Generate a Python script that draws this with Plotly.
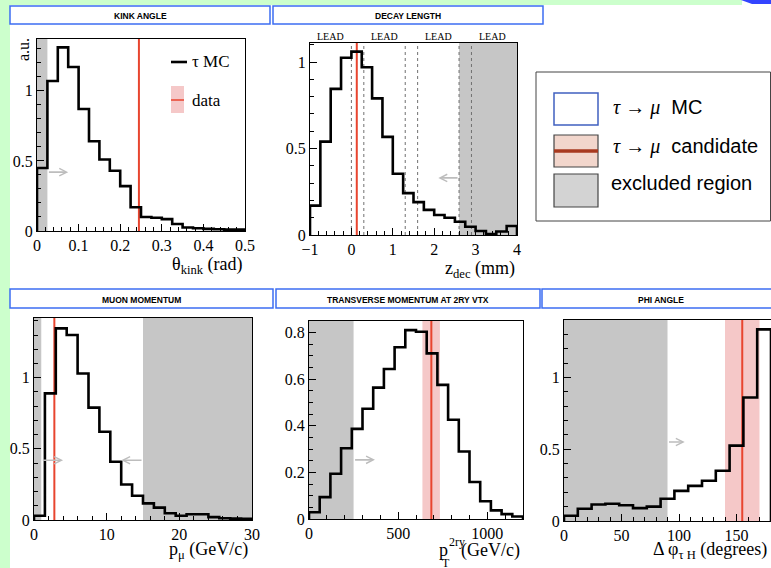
import plotly.graph_objects as go

W, H = 771, 568

# ---------------- data ----------------
kink_lo, kink_w = 0.0, 0.025
kink_vals = [0.45, 1.07, 1.31, 1.17, 0.87, 0.64, 0.51, 0.43, 0.32, 0.17,
             0.10, 0.095, 0.085, 0.05, 0.025, 0.02, 0.015, 0.012, 0.01, 0.01]
kink_cut = [0.0, 0.025]
kink_data = 0.245
kink_arrow = [0.025, 0.075, 0.42]

decay_lo, decay_w = -1.0, 0.25
decay_vals = [0.17, 0.54, 0.845, 1.025, 1.06, 0.97, 0.79, 0.567, 0.354, 0.242,
              0.19, 0.145, 0.116, 0.10, 0.077, 0.048, 0.023, 0.005, 0.02, 0.052]
decay_cut = [2.6, 4.0]
decay_data = 0.13
lead_gaps = [0.0, 0.3, 1.3, 1.6, 2.6, 2.9]
lead_label_x = [-0.5, 0.8, 2.1, 3.4]
decay_arrow = [2.6, 2.1, 0.33]

muon_lo, muon_w = 0.0, 1.5
muon_vals = [0.03, 0.89, 1.347, 1.30, 1.03, 0.79, 0.62, 0.41, 0.25, 0.17,
             0.117, 0.087, 0.047, 0.03, 0.04, 0.04, 0.02, 0.012, 0.01, 0.008]
muon_cuts = [[0.0, 1.0], [15.0, 30.0]]
muon_data = 2.8
muon_arrows = [[1.0, 4.0, 0.42], [15.0, 12.0, 0.42]]

pt_lo, pt_w = 0.0, 60.0
pt_vals = [0.029, 0.094, 0.194, 0.304, 0.387, 0.473, 0.564, 0.644, 0.737, 0.811,
           0.804, 0.711, 0.576, 0.426, 0.29, 0.159, 0.076, 0.037, 0.021, 0.011]
pt_cut = [0.0, 250.0]
pt_data = 686.0
pt_band = [636.0, 734.0]
pt_arrow = [250.0, 370.0, 0.254]

phi_lo, phi_w = 0.0, 12.0
phi_vals = [0.037, 0.085, 0.115, 0.12, 0.11, 0.09, 0.10, 0.155, 0.21, 0.245,
            0.28, 0.35, 0.525, 0.86, 1.335]
phi_cut = [0.0, 90.0]
phi_data = 155.0
phi_band = [140.0, 170.0]
phi_arrow = [90.0, 105.0, 0.55]

headers_top = ["KINK ANGLE", "DECAY LENGTH"]
headers_bottom = ["MUON MOMENTUM", "TRANSVERSE MOMENTUM AT 2RY VTX", "PHI ANGLE"]

# ---------------- styling ----------------
SERIF = "Liberation Serif"
SANS = "Liberation Sans"
RED = "#e8452f"
PINK = "#f5c8c8"
GRAYFILL = "#c6c6c6"
ARROW = "#bdbdbd"
BLUE = "#3d6df2"
GREEN = "#ccffcc"


def px(x):
    return x / W


def py(y):
    return 1 - y / H


# panel frames in pixels: (left, right, top, bottom)
panels = {
    1: (37, 245, 39, 231),
    2: (310, 517, 43, 235),
    3: (34, 252, 318, 520),
    4: (309, 523, 321, 519),
    5: (564, 771, 320, 521),
}
axcfg = {
    1: dict(xr=[0, 0.5], xd=0.1, xm=0.02, yr=[0, 1.37], yd=0.5, ym=0.1),
    2: dict(xr=[-1, 4], xd=1, xm=0.2, yr=[0, 1.11], yd=0.5, ym=0.1),
    3: dict(xr=[0, 30], xd=10, xm=2, yr=[0, 1.42], yd=0.5, ym=0.1),
    4: dict(xr=[0, 1200], xd=500, xm=100, yr=[0, 0.85], yd=0.2, ym=0.05),
    5: dict(xr=[0, 180], xd=50, xm=10, yr=[0, 1.4], yd=0.5, ym=0.1),
}


def step_xy(lo, width, vals):
    n = len(vals)
    edges = [lo + width * i for i in range(n + 1)]
    xs = [edges[0]] + edges + [edges[-1]]
    ys = [0] + list(vals) + [vals[-1], 0]
    return xs, ys


fig = go.Figure()

hists = {1: (kink_lo, kink_w, kink_vals), 2: (decay_lo, decay_w, decay_vals),
         3: (muon_lo, muon_w, muon_vals), 4: (pt_lo, pt_w, pt_vals),
         5: (phi_lo, phi_w, phi_vals)}

for i, (lo, w, vals) in hists.items():
    xs, ys = step_xy(lo, w, vals)
    s = "" if i == 1 else str(i)
    fig.add_trace(go.Scatter(x=xs, y=ys, mode="lines", line_shape="hv",
                             line=dict(color="black", width=2.6),
                             xaxis="x" + s, yaxis="y" + s, showlegend=False,
                             hoverinfo="skip"))

layout = dict(width=W, height=H,
              margin=dict(l=0, r=0, t=0, b=0, pad=0, autoexpand=False),
              paper_bgcolor="white", plot_bgcolor="white", showlegend=False)

for i, (l, r, t, b) in panels.items():
    c = axcfg[i]
    s = "" if i == 1 else str(i)
    common = dict(showline=True, linecolor="black", linewidth=1, mirror=True,
                  ticks="inside", ticklen=7, tickwidth=1, tickcolor="black",
                  showgrid=False, zeroline=False, automargin=False,
                  tickfont=dict(family=SERIF, size=16, color="black"))
    layout["xaxis" + s] = dict(domain=[px(l), px(r)], anchor="y" + s,
                               range=c["xr"], dtick=c["xd"], tick0=0,
                               minor=dict(dtick=c["xm"], ticks="inside", ticklen=4,
                                          tickcolor="black", showgrid=False),
                               **common)
    layout["yaxis" + s] = dict(domain=[py(b), py(t)], anchor="x" + s,
                               range=c["yr"], dtick=c["yd"], tick0=0,
                               minor=dict(dtick=c["ym"], ticks="inside", ticklen=4,
                                          tickcolor="black", showgrid=False),
                               **common)

fig.update_layout(**layout)

shapes = []
ann = []


def vband(s, x0, x1, color):
    shapes.append(dict(type="rect", xref="x" + s, yref="y" + s + " domain",
                       x0=x0, x1=x1, y0=0, y1=1, fillcolor=color,
                       line=dict(width=0), layer="below"))


def vline(s, x, color, width=2, dash="solid"):
    shapes.append(dict(type="line", xref="x" + s, yref="y" + s + " domain",
                       x0=x, x1=x, y0=0, y1=1,
                       line=dict(color=color, width=width, dash=dash), layer="below"))


def arrow(s, tail, tip, y):
    ann.append(dict(xref="x" + s, yref="y" + s, axref="x" + s, ayref="y" + s,
                    x=tip, y=y, ax=tail, ay=y, text="", showarrow=True,
                    arrowhead=5, arrowsize=0.9, arrowwidth=1.6, arrowcolor=ARROW))


# panel 1: kink angle
vband("", kink_cut[0], kink_cut[1], GRAYFILL)
vline("", kink_data, RED)
arrow("", kink_arrow[0], kink_arrow[1], kink_arrow[2])

# panel 2: decay length
vband("2", decay_cut[0], decay_cut[1], GRAYFILL)
for g in lead_gaps:
    vline("2", g, "#707070", width=1, dash="dot")
vline("2", decay_data, RED)
arrow("2", decay_arrow[0], decay_arrow[1], decay_arrow[2])
for lx in lead_label_x:
    ann.append(dict(xref="x2", yref="paper", x=lx, y=py(37), text="LEAD",
                    showarrow=False, font=dict(family=SERIF, size=10, color="black"),
                    xanchor="center", yanchor="middle"))

# panel 3: muon momentum
for c0, c1 in muon_cuts:
    vband("3", c0, c1, GRAYFILL)
vline("3", muon_data, RED)
for a in muon_arrows:
    arrow("3", a[0], a[1], a[2])

# panel 4: pT at 2ry vertex
vband("4", pt_cut[0], pt_cut[1], GRAYFILL)
vband("4", pt_band[0], pt_band[1], PINK)
vline("4", pt_data, RED)
arrow("4", pt_arrow[0], pt_arrow[1], pt_arrow[2])

# panel 5: phi angle
vband("5", phi_cut[0], phi_cut[1], GRAYFILL)
vband("5", phi_band[0], phi_band[1], PINK)
vline("5", phi_data, RED)
arrow("5", phi_arrow[0], phi_arrow[1], phi_arrow[2])


# ---------------- page decoration ----------------
def prect(x0, y0, x1, y1, **kw):
    d = dict(type="rect", xref="paper", yref="paper",
             x0=px(x0), x1=px(x1), y0=py(y1), y1=py(y0))
    d.update(kw)
    shapes.append(d)


def pline(x0, y0, x1, y1, color, width):
    shapes.append(dict(type="line", xref="paper", yref="paper",
                       x0=px(x0), x1=px(x1), y0=py(y0), y1=py(y1),
                       line=dict(color=color, width=width)))


def ptext(x, y, text, size, family=SERIF, xanchor="left", yanchor="middle",
          angle=0, color="black"):
    ann.append(dict(xref="paper", yref="paper", x=px(x), y=py(y), text=text,
                    showarrow=False, xanchor=xanchor, yanchor=yanchor,
                    textangle=angle, font=dict(family=family, size=size, color=color)))


# green page strips and blue corner
prect(0, 0, 10, H, fillcolor=GREEN, line=dict(width=0), layer="below")
prect(0, 0, 742, 5, fillcolor=GREEN, line=dict(width=0), layer="below")
shapes.append(dict(type="path", xref="paper", yref="paper",
                   path=f"M{px(741)},{py(0)} L{px(771)},{py(0)} L{px(771)},{py(4)} L{px(752)},{py(4)} Z",
                   fillcolor="#3344ff", line=dict(width=0)))

# header boxes
hdr_top_boxes = [(10, 270), (273, 543)]
for (x0, x1), txt in zip(hdr_top_boxes, headers_top):
    prect(x0, 6, x1, 24, line=dict(color=BLUE, width=1.5), fillcolor="rgba(0,0,0,0)")
    ptext((x0 + x1) / 2, 16, f"<b>{txt}</b>", 8.5, family=SANS, xanchor="center")
hdr_bot_boxes = [(10, 273), (276, 540), (542, 790)]
for (x0, x1), txt in zip(hdr_bot_boxes, headers_bottom):
    prect(x0, 289, x1, 308, line=dict(color=BLUE, width=1.5), fillcolor="rgba(0,0,0,0)")
    cx = (x0 + x1) / 2 if x1 < W else 661
    ptext(cx, 299.5, f"<b>{txt}</b>", 8.5, family=SANS, xanchor="center")

# legend inside the kink panel
pline(171, 62, 187, 62, "black", 2.6)
ptext(190, 62, "τ MC", 17)
prect(171, 86, 184, 113, fillcolor=PINK, line=dict(width=0))
pline(171, 100, 184, 100, RED, 1.5)
ptext(190, 100, "data", 17)

# big legend box (top right)
prect(536, 72, 770.5, 221, line=dict(color="#444444", width=1), fillcolor="white")
prect(554, 93, 598, 125, line=dict(color="#4060c0", width=1.5), fillcolor="white")
prect(554, 135, 598, 167, line=dict(color="#444444", width=1.2), fillcolor="#f2d6cc")
pline(554, 151, 598, 151, "#a83a20", 3.5)
prect(554, 174, 598, 207, line=dict(color="#444444", width=1.2), fillcolor="#d3d3d3")
tm = "<span style='font-family:Liberation Serif'><i>τ</i> → <i>μ</i></span>"
ptext(611, 108, tm + "  MC", 20, family=SANS)
ptext(611, 146, tm + "  candidate", 20, family=SANS)
ptext(609, 183, "excluded region", 20, family=SANS)

# axis titles
ptext(23, 50, "a.u.", 16, xanchor="center", angle=-90)
ptext(245, 265, "θ<sub>kink</sub> (rad)", 18, xanchor="right")
ptext(517, 269, "z<sub>dec</sub> (mm)", 18, xanchor="right")
ptext(250, 550, "p<sub>μ</sub> (GeV/c)", 18, xanchor="right")
ptext(522, 550, "(GeV/c)", 18, xanchor="right")
ptext(437, 550, "p", 18)
ptext(447, 542, "2ry", 12)
ptext(440, 563, "T", 12)
ptext(769, 550, "Δ φ<sub>τ H</sub> (degrees)", 18, xanchor="right")

fig.update_layout(shapes=shapes, annotations=ann)
fig.write_html("out.html",
               config={"displayModeBar": False},
               post_script="document.body.style.margin='0';"
                           "document.body.style.padding='0';"
                           "document.body.style.overflow='hidden';")
